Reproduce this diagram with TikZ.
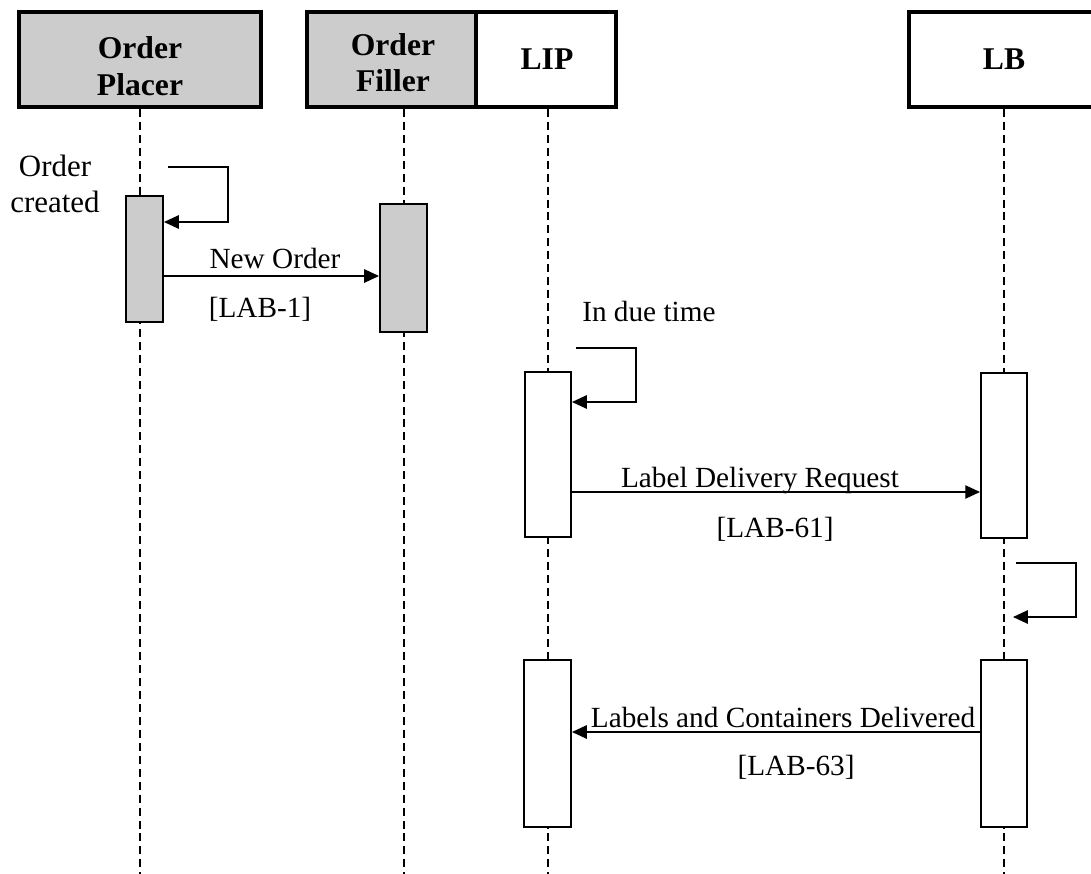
\documentclass[tikz,border=0pt]{standalone}
\usepackage{fontspec}
\setmainfont{Liberation Serif}
\usetikzlibrary{arrows.meta}
\definecolor{boxgray}{RGB}{204, 204, 204}

\begin{document}
\begin{tikzpicture}[x=0.025cm, y=-0.025cm]
	\tikzstyle{header} = [draw, line width=2.8pt, inner sep=0pt, minimum height=2.375cm]
	\tikzstyle{headtext} = [font=\fontsize{22.5}{26.2}\selectfont\bfseries, align=center, inner sep=0pt]
	\tikzstyle{activation} = [draw, line width=1.4pt, fill=white, inner sep=0pt]
	\tikzstyle{lifeline} = [line width=1.2pt, dash pattern=on 5.7pt off 3.5pt]
	\tikzstyle{message} = [-{Triangle[length=10.5pt,width=9.5pt]}, line width=1pt]
	\tikzstyle{msgtext} = [font=\fontsize{20.8}{24}\selectfont, anchor=base, inner sep=0pt]

	\useasboundingbox (0,0) rectangle (1091,874);

	\node[header, fill=boxgray, minimum width=6.05cm]  (op)  at (140,59.5)   {};
	\node[header, fill=boxgray, minimum width=4.225cm] (of)  at (391.5,59.5) {};
	\node[header, fill=white, minimum width=3.5cm]     (lip) at (546,59.5)   {};
	\node[header, fill=white, minimum width=4.75cm]    (lb)  at (1004,59.5)  {};

	\node[headtext] (opname)  at (140,66)   {Order\\Placer};
	\node[headtext] (ofname)  at (393,62.7) {Order\\Filler};
	\node[headtext, anchor=base] (lipname) at (547,70)  {LIP};
	\node[headtext, anchor=base] (lbname)  at (1004,70) {LB};

	\coordinate (opl) at (140,874);
	\coordinate (ofl) at (404,874);
	\coordinate (lipl) at (548,874);
	\coordinate (lbl) at (1004,874);
	\draw[lifeline] (opl |- op.south) -- (opl);
	\draw[lifeline] (ofl |- of.south) -- (ofl);
	\draw[lifeline] (lipl |- lip.south) -- (lipl);
	\draw[lifeline] (lbl |- lb.south) -- (lbl);

	\node[activation, fill=boxgray, minimum width=0.925cm, minimum height=3.15cm]  (a1) at (144.5,259)  {};
	\node[activation, fill=boxgray, minimum width=1.175cm, minimum height=3.2cm]   (a2) at (403.5,268)  {};
	\node[activation, minimum width=1.15cm, minimum height=4.125cm]  (a3) at (548,454.5)  {};
	\node[activation, minimum width=1.15cm, minimum height=4.125cm]  (a4) at (1004,455.5) {};
	\node[activation, minimum width=1.175cm, minimum height=4.175cm] (a5) at (547.5,743.5) {};
	\node[activation, minimum width=1.15cm, minimum height=4.175cm]  (a6) at (1004,743.5) {};

	\coordinate (s1) at (168,167);
	\coordinate (s2) at (576,348);
	\coordinate (s3) at (1016,563);
	\coordinate (t3) at (1013,617);

	\draw[message] (s1) -- ++(60,0) |- (a1.east |- 0,222);
	\node[font=\fontsize{22}{25.6}\selectfont, align=center, inner sep=0pt] (created) at (55,184.4) {Order\\created};

	\draw[message] (a1.east |- 0,276) -- (a2.west |- 0,276);
	\node[msgtext] (neworder) at (275,268) {New Order};
	\node[msgtext] (lab1) at (260,317) {[LAB-1]};

	\draw[message] (s2) -- ++(60,0) |- (a3.east |- 0,402);
	\node[msgtext, anchor=base west] (duetime) at (582,321) {In due time};

	\draw[message] (a3.east |- 0,492) -- (a4.west |- 0,492);
	\node[msgtext] (request) at (760,487) {Label Delivery Request};
	\node[msgtext] (lab61) at (775,537) {[LAB-61]};

	\draw[message] (s3) -- ++(60,0) |- (t3);

	\draw[message] (a6.west |- 0,732) -- (a5.east |- 0,732);
	\node[msgtext] (delivered) at (783,727) {Labels and Containers Delivered};
	\node[msgtext] (lab63) at (796,775) {[LAB-63]};
\end{tikzpicture}
\end{document}
